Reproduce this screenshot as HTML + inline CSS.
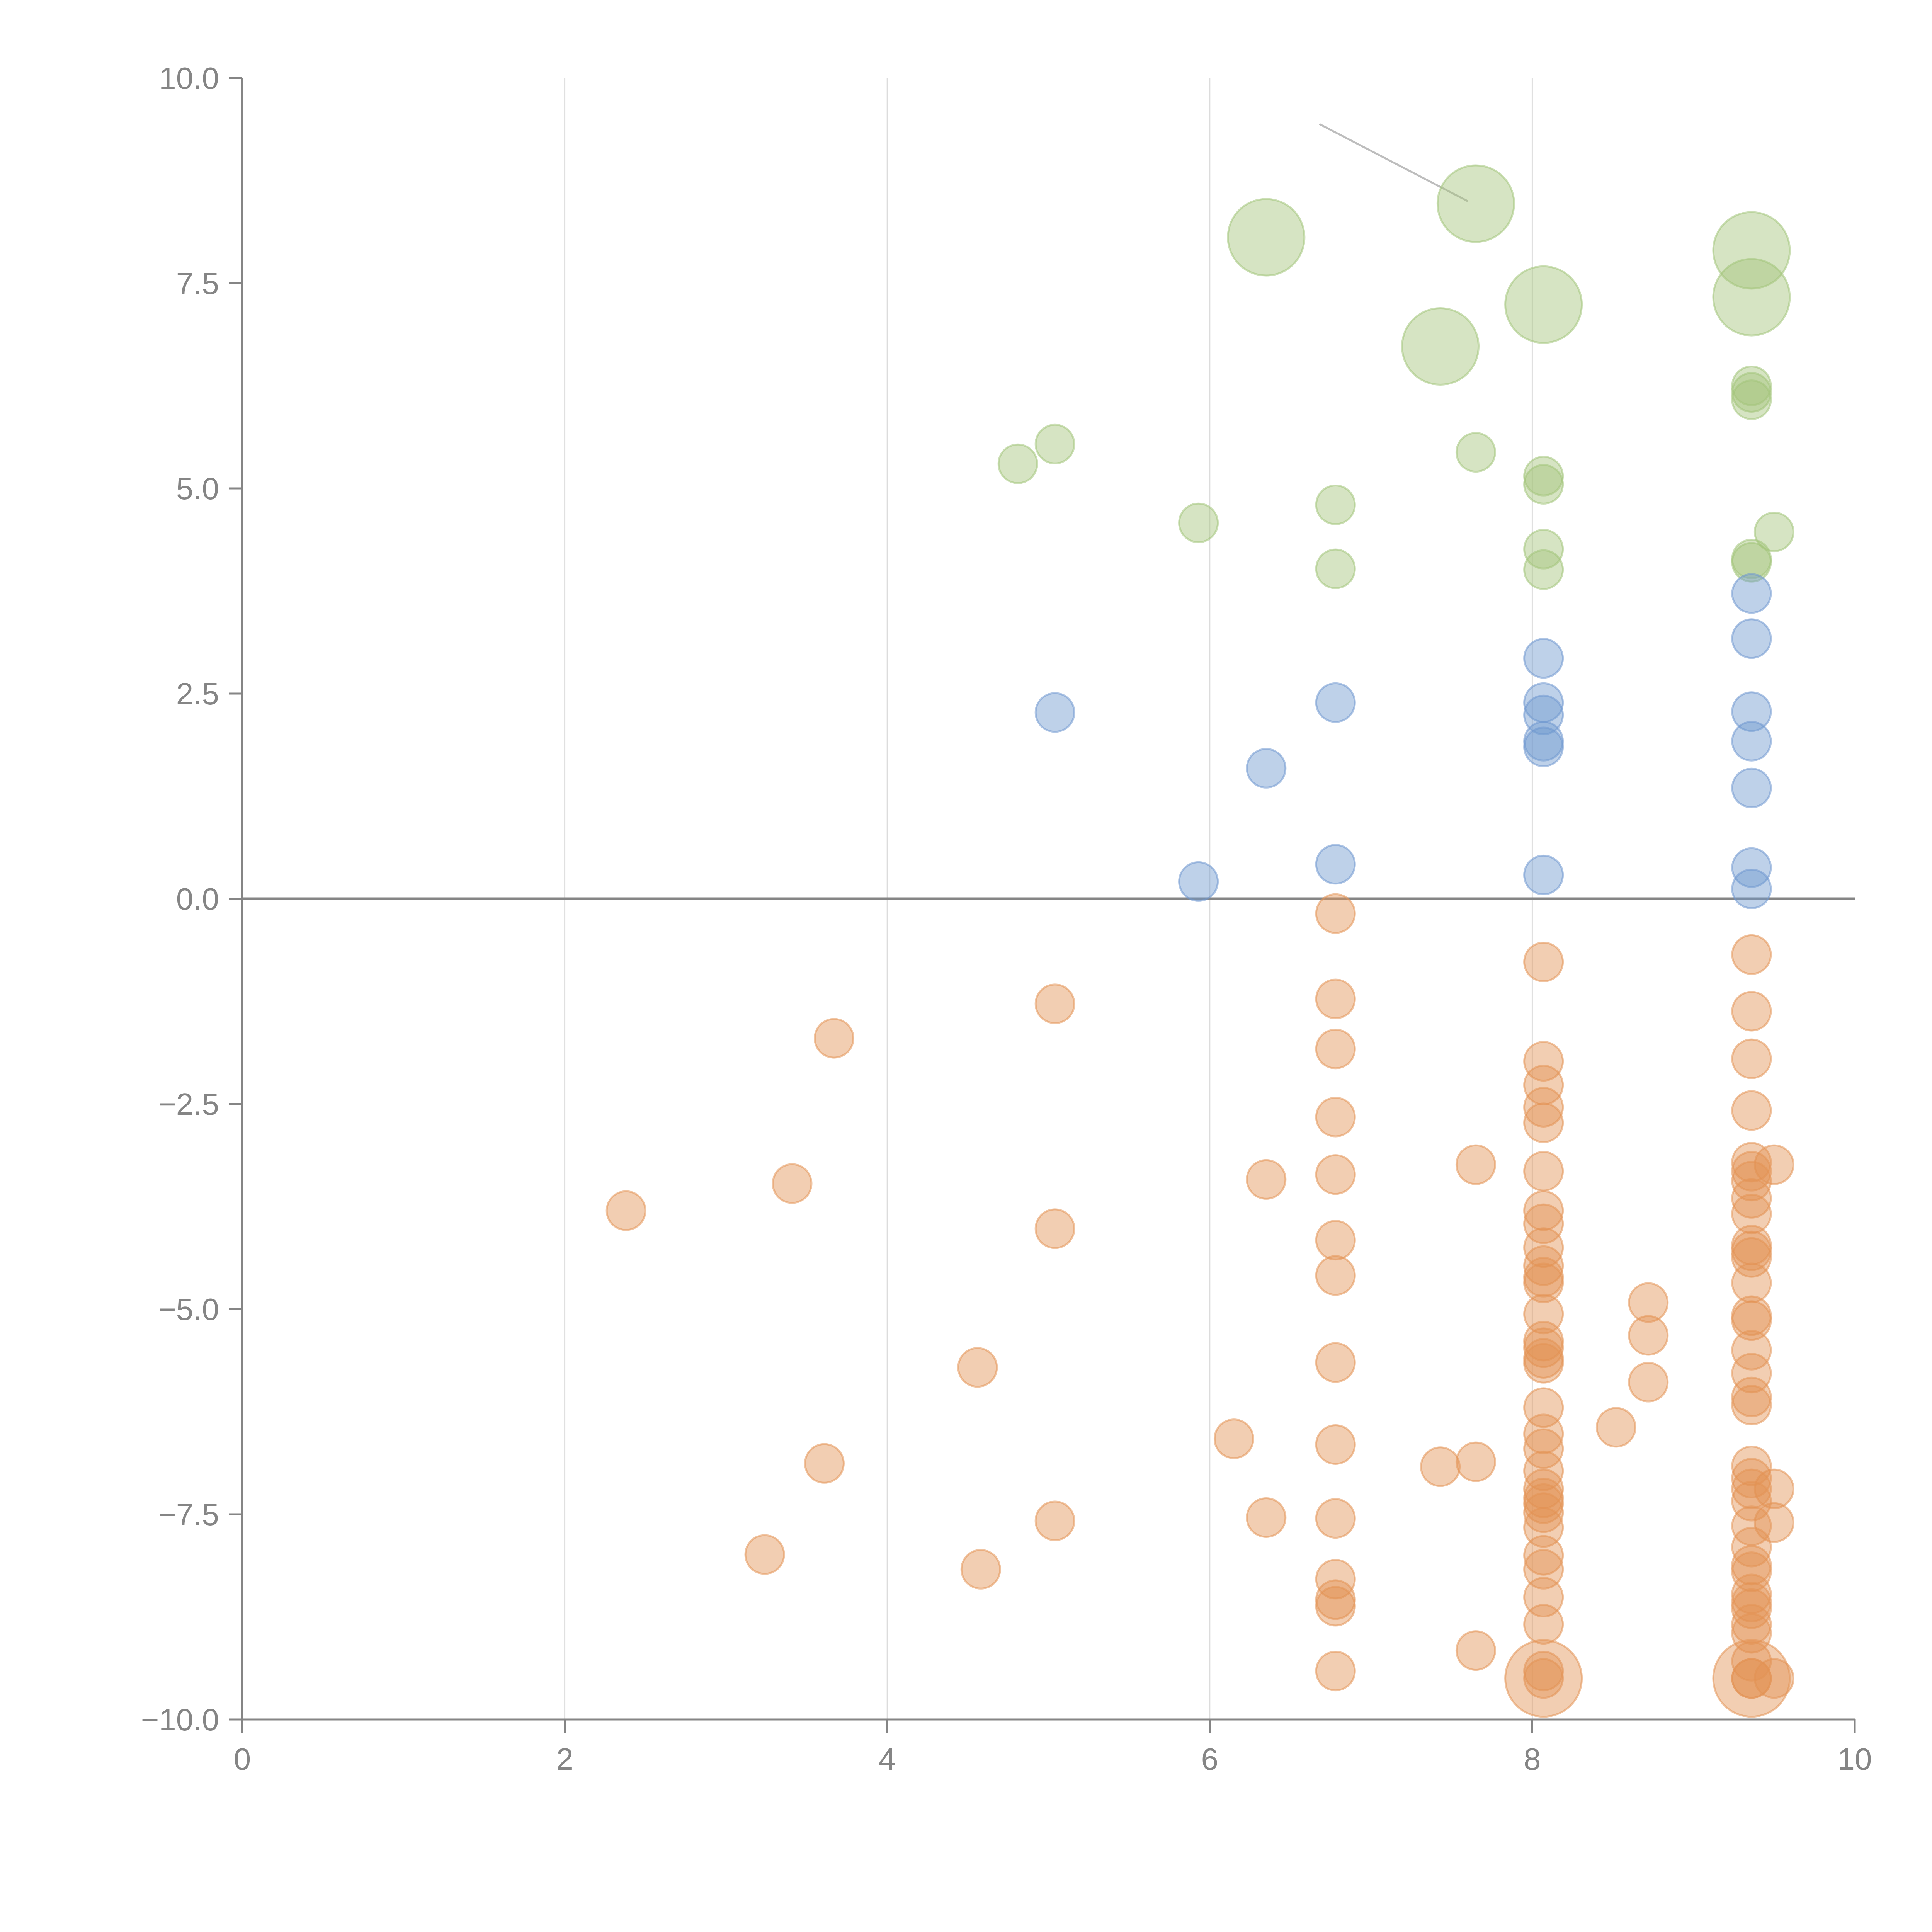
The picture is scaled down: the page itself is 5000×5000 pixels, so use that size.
<!DOCTYPE html>
<html><head><meta charset="utf-8"><style>
html,body{margin:0;padding:0;background:#fff}
svg{display:block}
text{font-family:"Liberation Sans",Arial,sans-serif;fill:#858585}
</style></head><body>
<svg id="chart" width="5000" height="5000" viewBox="0 0 5000 5000" xmlns="http://www.w3.org/2000/svg"></svg>
<script>
const xTicks=[0,2,4,6,8,10];
const yTicks=[10,7.5,5,2.5,0,-2.5,-5,-7.5,-10];
const yTickLabels=["10.0","7.5","5.0","2.5","0.0","\u22122.5","\u22125.0","\u22127.5","\u221210.0"];
const greenX=[6.35,7.65,7.43,8.07,9.36,9.36,4.81,5.04,5.93,6.78,6.78,7.65,8.07,8.07,8.07,8.07,9.36,9.36,9.36,9.5,9.36,9.36];
const greenY=[8.06,8.47,6.73,7.24,7.9,7.33,5.3,5.54,4.58,4.8,4.02,5.44,5.15,5.05,4.26,4.01,6.25,6.17,6.08,4.47,4.14,4.10];
const greenBig=[1,1,1,1,1,1,0,0,0,0,0,0,0,0,0,0,0,0,0,0,0,0];
const blueX=[5.04,6.35,5.93,6.78,6.78,8.07,8.07,8.07,8.07,8.07,8.07,9.36,9.36,9.36,9.36,9.36,9.36,9.36];
const blueY=[2.27,1.59,0.21,2.39,0.42,2.93,2.39,2.24,1.92,1.85,0.29,3.72,3.17,2.28,1.92,1.35,0.38,0.12];
const orangeX=[2.38,3.41,3.67,3.61,3.24,4.56,4.58,5.04,5.04,5.04,6.35,6.35,6.15,7.43,7.65,7.65,7.65,8.72,8.72,8.72,8.52,9.5,9.5,9.5,9.5,
6.78,6.78,6.78,6.78,6.78,6.78,6.78,6.78,6.78,6.78,6.78,6.78,6.78,6.78,
8.07,8.07,8.07,8.07,8.07,8.07,8.07,8.07,8.07,8.07,8.07,8.07,8.07,8.07,8.07,8.07,8.07,8.07,8.07,8.07,8.07,8.07,8.07,8.07,8.07,8.07,8.07,8.07,8.07,8.07,8.07,8.07,
9.36,9.36,9.36,9.36,9.36,9.36,9.36,9.36,9.36,9.36,9.36,9.36,9.36,9.36,9.36,9.36,9.36,9.36,9.36,9.36,9.36,9.36,9.36,9.36,9.36,9.36,9.36,9.36,9.36,9.36,9.36,9.36,9.36,9.36,9.36];
const orangeY=[-3.8,-3.47,-1.7,-6.88,-7.99,-5.71,-8.17,-1.28,-4.02,-7.58,-3.42,-7.54,-6.58,-6.92,-3.24,-6.86,-9.16,-4.92,-5.32,-5.89,-6.44,-3.24,-7.19,-7.6,-9.5,
-0.18,-1.22,-1.83,-2.66,-3.36,-4.16,-4.59,-5.65,-6.65,-7.55,-8.29,-8.54,-8.62,-9.41,
-0.77,-1.98,-2.27,-2.54,-2.73,-3.32,-3.8,-3.96,-4.25,-4.47,-4.61,-4.68,-5.06,-5.39,-5.47,-5.6,-5.66,-6.2,-6.52,-6.7,-6.97,-7.19,-7.3,-7.37,-7.48,-7.66,-8.0,-8.17,-8.51,-8.84,-9.41,-9.5,
-0.68,-1.37,-1.95,-2.58,-3.21,-3.32,-3.44,-3.65,-3.84,-4.22,-4.29,-4.37,-4.68,-5.08,-5.14,-5.5,-5.78,-6.07,-6.17,-6.91,-7.06,-7.19,-7.34,-7.64,-7.9,-8.12,-8.2,-8.47,-8.57,-8.65,-8.84,-8.95,-9.29,-9.5,-9.5];
const orangeBigX=[8.07,9.36];
const orangeBigY=[-9.5,-9.5];

const NS="http://www.w3.org/2000/svg";
const svg=document.getElementById('chart');
const X0=627,X1=4800,Y0=4450,Y1=202;
function sx(v){return X0+(v-0)/(10-0)*(X1-X0);}
function sy(v){return Y0-(v+10)/20*(Y0-Y1);}
function mk(tag,attrs,parent){const e=document.createElementNS(NS,tag);for(const k in attrs)e.setAttribute(k,attrs[k]);(parent||svg).appendChild(e);return e;}

const grid=mk('g',{});


xTicks.forEach(t=>{if(t===0||t===10)return;
  const l=mk('line',{x1:sx(t),x2:sx(t),y1:Y1,y2:Y0,stroke:'#dcdcdc','stroke-width':3},grid);
  
  
});
const zl=mk('line',{x1:X0,x2:X1,y1:sy(0),y2:sy(0),stroke:'#858585','stroke-width':7});



const ln=mk('line',{x1:sx(6.68),y1:sy(9.44),x2:sx(7.6),y2:sy(8.5),stroke:'#bdbdbd','stroke-width':5});



function drawSeries(xs,ys,bigs,fill,name){
  const g=mk('g',{});
  
  
  xs.forEach((x,i)=>{
    const big=bigs&&bigs[i];
    const c=mk('circle',{cx:sx(x),cy:sy(ys[i]),r:big?99:50,fill:fill,'fill-opacity':0.45,stroke:fill,'stroke-opacity':0.55,'stroke-width':5},g);
    
    
  });
}
drawSeries(greenX,greenY,greenBig,'#a3c47a','green');
drawSeries(blueX,blueY,null,'#6f98cf','blue');
drawSeries(orangeX,orangeY,null,'#e39355','orange');
drawSeries(orangeBigX,orangeBigY,[1,1],'#e39355','orange-large');

const ax=mk('g',{});


const ya=mk('line',{x1:X0,x2:X0,y1:Y1,y2:Y0+35,stroke:'#858585','stroke-width':5},ax);


const xa=mk('line',{x1:X0-35,x2:X1,y1:Y0,y2:Y0,stroke:'#858585','stroke-width':5},ax);


yTicks.forEach((t,i)=>{
  mk('line',{x1:X0-35,x2:X0,y1:sy(t),y2:sy(t),stroke:'#858585','stroke-width':5},ax);
  const tx=mk('text',{x:X0-60,y:sy(t)+28,'text-anchor':'end','font-size':80},ax);
  tx.textContent=yTickLabels[i];
  
  
});
xTicks.forEach(t=>{
  mk('line',{x1:sx(t),x2:sx(t),y1:Y0,y2:Y0+35,stroke:'#858585','stroke-width':5},ax);
  const tx=mk('text',{x:sx(t),y:Y0+130,'text-anchor':'middle','font-size':80},ax);
  tx.textContent=String(t);
  
  
});
</script>
</body></html>
